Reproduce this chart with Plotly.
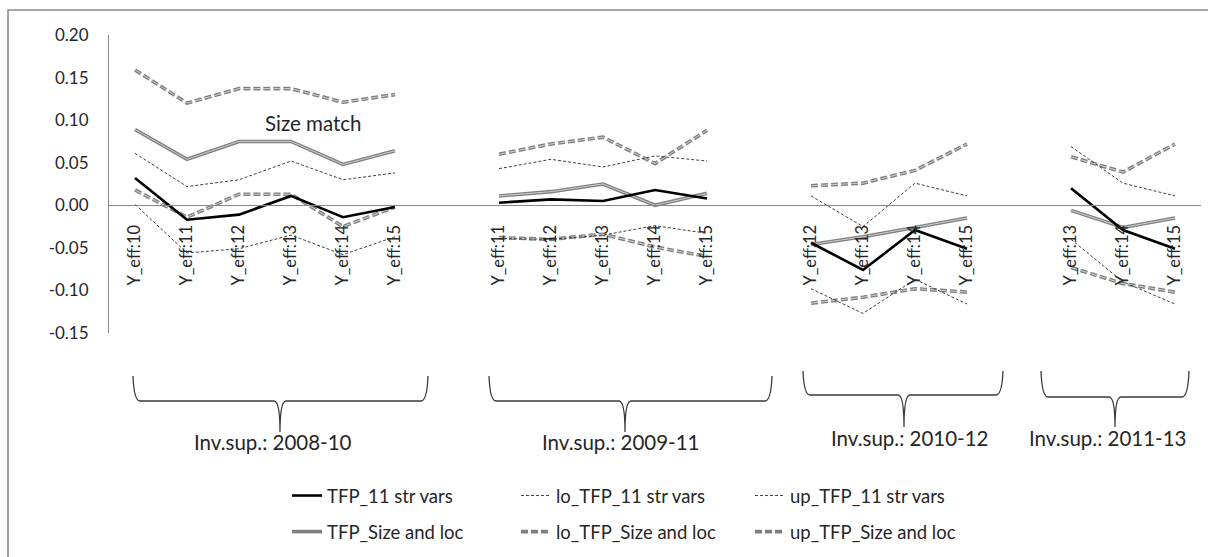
import plotly.graph_objects as go

# ---------------- data ----------------
group_labels = ["Inv.sup.: 2008-10", "Inv.sup.: 2009-11", "Inv.sup.: 2010-12", "Inv.sup.: 2011-13"]
group_cats = [
    ["Y_eff:10", "Y_eff:11", "Y_eff:12", "Y_eff:13", "Y_eff:14", "Y_eff:15"],
    ["Y_eff:11", "Y_eff:12", "Y_eff:13", "Y_eff:14", "Y_eff:15"],
    ["Y_eff:12", "Y_eff:13", "Y_eff:14", "Y_eff:15"],
    ["Y_eff:13", "Y_eff:14", "Y_eff:15"],
]

tfp_11 = [
    [0.032, -0.017, -0.011, 0.011, -0.014, -0.002],
    [0.003, 0.007, 0.005, 0.018, 0.008],
    [-0.044, -0.076, -0.029, -0.051],
    [0.020, -0.029, -0.051],
]
lo_tfp_11 = [
    [0.001, -0.056, -0.051, -0.035, -0.058, -0.037],
    [-0.039, -0.040, -0.035, -0.024, -0.033],
    [-0.098, -0.127, -0.087, -0.116],
    [-0.040, -0.090, -0.116],
]
up_tfp_11 = [
    [0.061, 0.022, 0.030, 0.052, 0.030, 0.038],
    [0.043, 0.054, 0.045, 0.058, 0.052],
    [0.011, -0.025, 0.026, 0.011],
    [0.069, 0.026, 0.011],
]
tfp_size = [
    [0.089, 0.054, 0.075, 0.075, 0.048, 0.064],
    [0.011, 0.016, 0.025, 0.000, 0.014],
    [-0.046, -0.037, -0.026, -0.015],
    [-0.006, -0.026, -0.015],
]
lo_tfp_size = [
    [0.018, -0.014, 0.013, 0.013, -0.025, -0.002],
    [-0.038, -0.040, -0.034, -0.049, -0.060],
    [-0.115, -0.108, -0.098, -0.102],
    [-0.073, -0.092, -0.102],
]
up_tfp_size = [
    [0.159, 0.120, 0.137, 0.137, 0.121, 0.130],
    [0.060, 0.072, 0.080, 0.049, 0.088],
    [0.023, 0.026, 0.041, 0.072],
    [0.057, 0.039, 0.072],
]

y_tickvals = [-0.15, -0.10, -0.05, 0.00, 0.05, 0.10, 0.15, 0.20]
y_ticktext = ["-0.15", "-0.10", "-0.05", "0.00", "0.05", "0.10", "0.15", "0.20"]
annotation_text = "Size match"

# ---------------- geometry helpers ----------------
W, H = 1208, 557
ML, MR, MT, MB = 109, 7, 35, 224
PW, PH = W - ML - MR, H - MT - MB


def px(x):
    return (x - ML) / PW


def py(y):
    return (H - MB - y) / PH


def cx(x):  # container coords
    return x / W


def cy(y):
    return 1 - y / H


# category positions: groups separated by one empty slot
positions = []
start = 0
for cats in group_cats:
    positions.append(list(range(start, start + len(cats))))
    start += len(cats) + 1
last_pos = positions[-1][-1]

tickvals = [p for g in positions for p in g]
ticktext = [c for g in group_cats for c in g]


def flat(groups):
    xs, ys = [], []
    for i, (pos, vals) in enumerate(zip(positions, groups)):
        if i > 0:
            xs.append(None)
            ys.append(None)
        xs.extend(pos)
        ys.extend(vals)
    return xs, ys


FONT = "Lato, 'Open Sans', sans-serif"
TXT = "#262626"

fig = go.Figure()

GRAY_OUT = "#7f7f7f"
GRAY_IN = "#cfcfcf"
DASH_SIZE = "7px,3px"
DASH_DOT = "3px,2px"

# Size & loc series (double gray lines)
for name, data, dash, leg in [
    ("TFP_Size and loc", tfp_size, "solid", "legend"),
    ("lo_TFP_Size and loc", lo_tfp_size, DASH_SIZE, "legend2"),
    ("up_TFP_Size and loc", up_tfp_size, DASH_SIZE, "legend3"),
]:
    x, y = flat(data)
    fig.add_trace(go.Scatter(x=x, y=y, mode="lines", name=name, legend=leg,
                             legendgroup=name + "_g",
                             line=dict(color=GRAY_OUT, width=3.6, dash=dash),
                             connectgaps=False, legendrank=2))
    fig.add_trace(go.Scatter(x=x, y=y, mode="lines", name=name, showlegend=False,
                             legendgroup=name + "_g", hoverinfo="skip",
                             line=dict(color=GRAY_IN, width=1.0, dash=dash),
                             connectgaps=False))

# 11 str vars series
for name, data, color, width, dash, leg in [
    ("TFP_11 str vars", tfp_11, "#000000", 2.6, "solid", "legend"),
    ("lo_TFP_11 str vars", lo_tfp_11, "#404040", 1.0, DASH_DOT, "legend2"),
    ("up_TFP_11 str vars", up_tfp_11, "#404040", 1.0, DASH_DOT, "legend3"),
]:
    x, y = flat(data)
    fig.add_trace(go.Scatter(x=x, y=y, mode="lines", name=name, legend=leg,
                             legendgroup=name + "_g",
                             line=dict(color=color, width=width, dash=dash),
                             connectgaps=False, legendrank=1))

# ---------------- braces and labels ----------------
brace_px = [  # left, right, mid, top, horizontal, tip, label_x, label_y
    (133, 428, 280, 376, 401, 432, 273, 442),
    (489, 772, 625, 376, 401, 432, 621, 442),
    (803, 1003, 904, 371, 395, 427, 910, 438),
    (1041, 1189, 1115, 371, 397, 427, 1108, 438),
]

shapes = []
annotations = []
for (Lx, Rx, Mx, Ty, Hy, Py, lx, ly), lab in zip(brace_px, group_labels):
    pts = [
        ("M", [(Lx, Ty)]),
        ("Q", [(Lx + 1, Hy), (Lx + 7, Hy)]),
        ("L", [(Mx - 6, Hy)]),
        ("Q", [(Mx, Hy), (Mx, Py)]),
        ("Q", [(Mx, Hy), (Mx + 6, Hy)]),
        ("L", [(Rx - 7, Hy)]),
        ("Q", [(Rx - 1, Hy), (Rx, Ty)]),
    ]
    path = " ".join(cmd + " " + " ".join(f"{px(a):.5f},{py(b):.5f}" for a, b in p) for cmd, p in pts)
    shapes.append(dict(type="path", xref="paper", yref="paper", path=path,
                       line=dict(color="#3a3a3a", width=1.3)))
    annotations.append(dict(text=lab, xref="paper", yref="paper", x=px(lx), y=py(ly),
                            xanchor="center", yanchor="middle", showarrow=False,
                            font=dict(family=FONT, size=20.5, color=TXT)))

annotations.append(dict(text=annotation_text, xref="paper", yref="paper", x=px(313), y=py(123),
                        xanchor="center", yanchor="middle", showarrow=False,
                        font=dict(family=FONT, size=20.5, color=TXT)))

# outer chart border
shapes.append(dict(type="rect", xref="paper", yref="paper",
                   x0=px(8), x1=px(1230), y0=py(580), y1=py(10),
                   line=dict(color="#8a8a8a", width=1.6), layer="below"))

legend_common = dict(orientation="v", xanchor="left", yanchor="top",
                     xref="container", yref="container",
                     bgcolor="rgba(0,0,0,0)", borderwidth=0,
                     font=dict(family=FONT, size=18.5, color=TXT),
                     traceorder="grouped", tracegroupgap=9, itemclick=False,
                     itemdoubleclick=False)

fig.update_layout(
    width=W, height=H, autosize=False,
    margin=dict(l=ML, r=MR, t=MT, b=MB, pad=0, autoexpand=False),
    paper_bgcolor="white", plot_bgcolor="white",
    font=dict(family=FONT, color=TXT),
    showlegend=True,
    legend=dict(x=cx(287), y=cy(477), **legend_common),
    legend2=dict(x=cx(516), y=cy(477), **legend_common),
    legend3=dict(x=cx(750), y=cy(477), **legend_common),
    xaxis=dict(range=[-0.5, last_pos + 0.5], tickvals=tickvals, ticktext=ticktext,
               tickangle=-90, showgrid=False, zeroline=False, showline=True,
               linecolor="#878787", linewidth=1, ticks="", anchor="free",
               position=(0 - (-0.15)) / (0.20 - (-0.15)), automargin=False,
               tickfont=dict(family=FONT, size=16.5, color=TXT),
               ticklabelstandoff=12),
    yaxis=dict(range=[-0.15, 0.20], tickvals=y_tickvals, ticktext=y_ticktext,
               showgrid=False, zeroline=False, showline=True, linecolor="#878787",
               linewidth=1, ticks="", tickfont=dict(family=FONT, size=17, color=TXT),
               ticklabelstandoff=16, automargin=False),
    shapes=shapes,
    annotations=annotations,
)

fig.write_html("out.html", config={"displayModeBar": False},
               post_script="document.body.style.margin='0';")
